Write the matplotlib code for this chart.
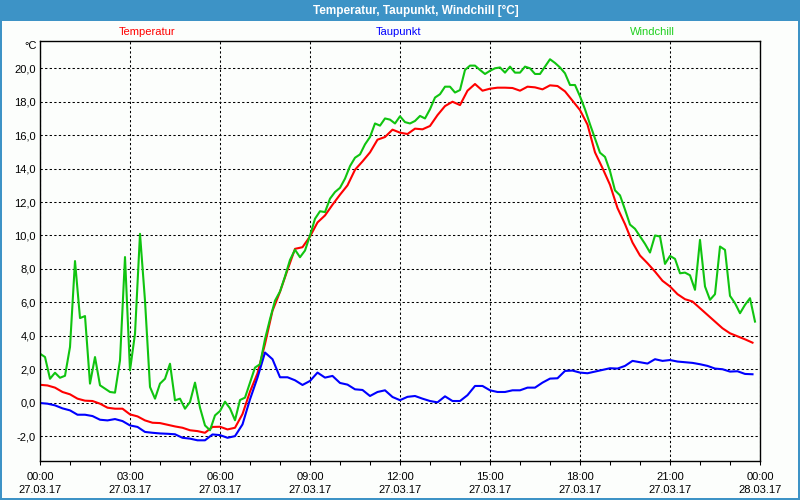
import numpy as np
import matplotlib
matplotlib.use("Agg")
import matplotlib.pyplot as plt
from matplotlib.patches import Rectangle

plt.rcParams['font.family'] = ['Liberation Sans', 'DejaVu Sans']

# temperature and dew point, every 15 minutes from 00:00
temperatur = [1.07, 1.03, 0.9, 0.64, 0.5, 0.24, 0.12, 0.1, -0.06, -0.3, -0.36, -0.36,
              -0.7, -0.82, -1.06, -1.2, -1.22, -1.32, -1.42, -1.5, -1.65, -1.7, -1.8, -1.45,
              -1.44, -1.6, -1.5, -0.68, 0.66, 1.76, 3.51, 5.5, 6.63, 7.94, 9.2, 9.3,
              9.94, 10.78, 11.2, 11.84, 12.44, 13.0, 13.93, 14.43, 14.97, 15.73, 15.89, 16.33,
              16.15, 16.07, 16.39, 16.35, 16.55, 17.2, 17.74, 18.0, 17.8, 18.66, 19.06, 18.66,
              18.78, 18.84, 18.84, 18.82, 18.66, 18.9, 18.86, 18.74, 18.98, 18.94, 18.62, 18.06,
              17.5, 16.63, 14.97, 14.03, 13.03, 11.64, 10.68, 9.58, 8.8, 8.34, 7.84, 7.29,
              6.95, 6.49, 6.19, 6.05, 5.65, 5.25, 4.85, 4.45, 4.15, 3.97, 3.79, 3.59]
taupunkt = [-0.02, -0.06, -0.16, -0.34, -0.46, -0.72, -0.72, -0.8, -1.02, -1.06, -0.98, -1.1,
            -1.36, -1.45, -1.75, -1.8, -1.84, -1.86, -1.89, -2.1, -2.15, -2.25, -2.25, -1.9,
            -1.94, -2.1, -2.0, -1.3, 0.2, 1.5, 3.0, 2.6, 1.52, 1.52, 1.34, 1.06,
            1.3, 1.8, 1.5, 1.6, 1.18, 1.08, 0.8, 0.76, 0.4, 0.64, 0.74, 0.34,
            0.15, 0.35, 0.4, 0.24, 0.1, 0.02, 0.38, 0.1, 0.1, 0.45, 1.0, 1.0,
            0.74, 0.64, 0.64, 0.74, 0.74, 0.9, 0.9, 1.2, 1.44, 1.46, 1.9, 1.92,
            1.8, 1.76, 1.86, 1.96, 2.06, 2.04, 2.2, 2.5, 2.42, 2.34, 2.6, 2.5,
            2.55, 2.46, 2.42, 2.38, 2.3, 2.2, 2.04, 2.0, 1.86, 1.88, 1.72, 1.7]

# wind chill, every 10 minutes from 00:00
windchill = [2.93, 2.73, 1.43, 1.79, 1.49, 1.61, 3.33, 8.47, 5.06, 5.18, 1.14, 2.73,
             1.04, 0.84, 0.64, 0.6, 2.53, 8.71, 1.93, 4.12, 10.1, 6.1, 0.94, 0.24,
             1.14, 1.43, 2.33, 0.14, 0.24, -0.36, 0.04, 1.2, -0.3, -1.36, -1.65, -0.76,
             -0.5, 0.06, -0.34, -1.05, 0.16, 0.3, 1.2, 2.1, 2.3, 3.8, 5.0, 6.1,
             6.65, 7.55, 8.54, 9.15, 8.7, 9.1, 10.0, 11.0, 11.45, 11.4, 12.2, 12.6,
             12.85, 13.4, 14.15, 14.65, 14.85, 15.45, 15.89, 16.7, 16.57, 17.0, 16.93, 16.7,
             17.13, 16.78, 16.7, 16.85, 17.15, 17.0, 17.55, 18.25, 18.45, 18.9, 18.9, 18.55,
             18.7, 19.9, 20.16, 20.16, 19.9, 19.66, 19.85, 20.0, 20.05, 19.74, 20.1, 19.74,
             19.74, 20.1, 20.0, 19.66, 19.66, 20.1, 20.54, 20.32, 20.05, 19.7, 19.0, 19.0,
             18.32, 17.55, 16.65, 15.8, 14.95, 14.7, 13.85, 12.7, 12.4, 11.55, 10.65, 10.4,
             9.95, 9.5, 8.98, 10.0, 9.94, 8.3, 8.78, 8.6, 7.74, 7.78, 7.62, 6.75,
             9.74, 6.95, 6.15, 6.49, 9.34, 9.14, 6.39, 5.95, 5.35, 5.85, 6.25, 4.85]

t15 = np.arange(len(temperatur)) * 0.25
t10 = np.arange(len(windchill)) / 6.0

tick_hours = [0, 3, 6, 9, 12, 15, 18, 21, 24]
tick_labels = ['00:00\n27.03.17', '03:00\n27.03.17', '06:00\n27.03.17', '09:00\n27.03.17',
               '12:00\n27.03.17', '15:00\n27.03.17', '18:00\n27.03.17', '21:00\n27.03.17',
               '00:00\n28.03.17']
y_ticks = [-2, 0, 2, 4, 6, 8, 10, 12, 14, 16, 18, 20]

bg = '#fcfefc'
frame = '#3d93c6'
red = '#ff0000'
blue = '#0000ff'
green = '#10c410'

fig = plt.figure(figsize=(8, 5), dpi=100, facecolor=bg)
ax = fig.add_axes([40 / 800, 1 - 460.7 / 500, 720 / 800, 420 / 500])
ax.set_facecolor(bg)

ax.plot(t15, temperatur, color=red, lw=1.5)
ax.plot(t15, taupunkt, color=blue, lw=1.5)
ax.plot(t10, windchill, color=green, lw=1.5)

ax.set_xlim(0, 24)
ax.set_ylim(-3.47, 21.65)
ax.set_xticks(tick_hours)
ax.set_xticklabels(tick_labels, fontsize=8, linespacing=1.45)
ax.set_xticks(range(25), minor=True)
ax.set_yticks(y_ticks)
ax.set_yticklabels([f'{v:.1f}'.replace('.', ',') for v in y_ticks], fontsize=8)
ax.tick_params(axis='y', length=0, pad=3)
ax.tick_params(axis='x', which='major', length=3, width=0.75, pad=5, direction='out')
ax.tick_params(axis='x', which='minor', length=3, width=0.75, direction='out')
ax.grid(True, color='black', lw=0.75, linestyle=(0, (2.2, 2.2)))
for s in ax.spines.values():
    s.set_linewidth(1.0)

# window decoration
fig.add_artist(Rectangle((0, 1 - 20.5 / 500), 1, 20.5 / 500, transform=fig.transFigure,
                         facecolor=frame, edgecolor='none'))
fig.add_artist(Rectangle((0, 0), 2 / 800, 1, transform=fig.transFigure,
                         facecolor=frame, edgecolor='none'))
fig.add_artist(Rectangle((1 - 2 / 800, 0), 2 / 800, 1, transform=fig.transFigure,
                         facecolor=frame, edgecolor='none'))
fig.add_artist(Rectangle((0, 0), 1, 2 / 500, transform=fig.transFigure,
                         facecolor=frame, edgecolor='none'))

fig.text(416 / 800, 1 - 10.5 / 500, 'Temperatur, Taupunkt, Windchill [°C]', color='white',
         fontsize=8.5, fontweight='bold', ha='center', va='center')
fig.text(147 / 800, 1 - 32 / 500, 'Temperatur', color=red, fontsize=8, ha='center', va='center')
fig.text(399 / 800, 1 - 32 / 500, 'Taupunkt', color=blue, fontsize=8, ha='center', va='center')
fig.text(652 / 800, 1 - 32 / 500, 'Windchill', color='#20d020', fontsize=8, ha='center', va='center')
fig.text(31 / 800, 1 - 46 / 500, '°C', color='black', fontsize=8, ha='center', va='center')

fig.savefig('out.png', dpi=100, facecolor=bg)
